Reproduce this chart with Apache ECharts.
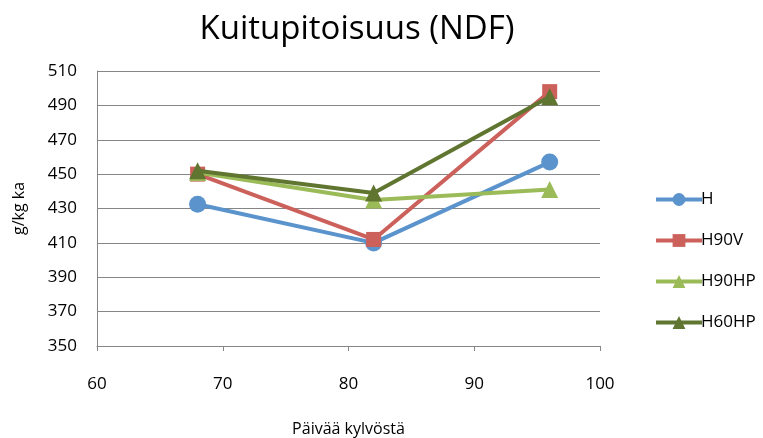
<!DOCTYPE html>
<html><head><meta charset="utf-8">
<script src="https://cdn.jsdelivr.net/npm/echarts@6/dist/echarts.min.js"></script>
<style>html,body{margin:0;padding:0;background:#fff}#c{width:763px;height:438px}</style>
</head><body><div id="c"></div>
<script>
const days = [68, 82, 96];
const seriesNames = ['H', 'H90V', 'H90HP', 'H60HP'];
const H = [432.5, 410, 457];
const H90V = [450, 412, 498];
const H90HP = [451, 435, 441];
const H60HP = [452, 439, 495];
const colors = ['#5B93CC', '#CC615C', '#9BBB59', '#5F7530'];
const symbols = ['circle', 'rect', 'triangle', 'triangle'];
const values = [H, H90V, H90HP, H60HP];
const font = '"Open Sans", "Liberation Sans", sans-serif';
const chart = echarts.init(document.getElementById('c'));
chart.setOption({
  animation: false,
  title: { text: 'Kuitupitoisuus (NDF)', left: 352, textAlign: 'center', top: 8,
    textStyle: { fontFamily: font, fontSize: 33, fontWeight: 'normal', color: '#000' } },
  grid: { left: 97, right: 163, top: 71, bottom: 92, outerBoundsMode: 'none', containLabel: false },
  legend: { orient: 'vertical', left: 649, top: 186, itemWidth: 46, itemHeight: 16, itemGap: 24,
    lineStyle: { width: 4 },
    textStyle: { fontFamily: font, fontSize: 17, color: '#000', padding: [0, 0, 0, -6] },
    data: seriesNames },
  xAxis: { type: 'value', min: 60, max: 100, interval: 10,
    name: 'Päivää kylvöstä', nameLocation: 'middle', nameGap: 75,
    nameTextStyle: { fontFamily: font, fontSize: 16, color: '#000' },
    axisLine: { lineStyle: { color: '#868686' } },
    axisTick: { show: true, length: 5, lineStyle: { color: '#868686' } },
    axisLabel: { fontFamily: font, fontSize: 17, color: '#000', margin: 30 },
    splitLine: { show: false } },
  yAxis: { type: 'value', min: 350, max: 510, interval: 20,
    name: 'g/kg ka', nameLocation: 'middle', nameGap: 70, nameRotate: 90,
    nameTextStyle: { fontFamily: font, fontSize: 16, color: '#000' },
    axisLine: { show: true, lineStyle: { color: '#868686' } },
    axisTick: { show: false },
    axisLabel: { fontFamily: font, fontSize: 17, color: '#000', margin: 20 },
    splitLine: { lineStyle: { color: '#868686', width: 1 } } },
  series: seriesNames.map((n, i) => ({
    name: n, type: 'line',
    data: days.map((d, j) => [d, values[i][j]]),
    symbol: symbols[i], symbolSize: symbols[i] === 'rect' ? 15 : 17,
    lineStyle: { color: colors[i], width: 4 },
    itemStyle: { color: colors[i] },
    z: 2 + i
  }))
});
</script></body></html>
